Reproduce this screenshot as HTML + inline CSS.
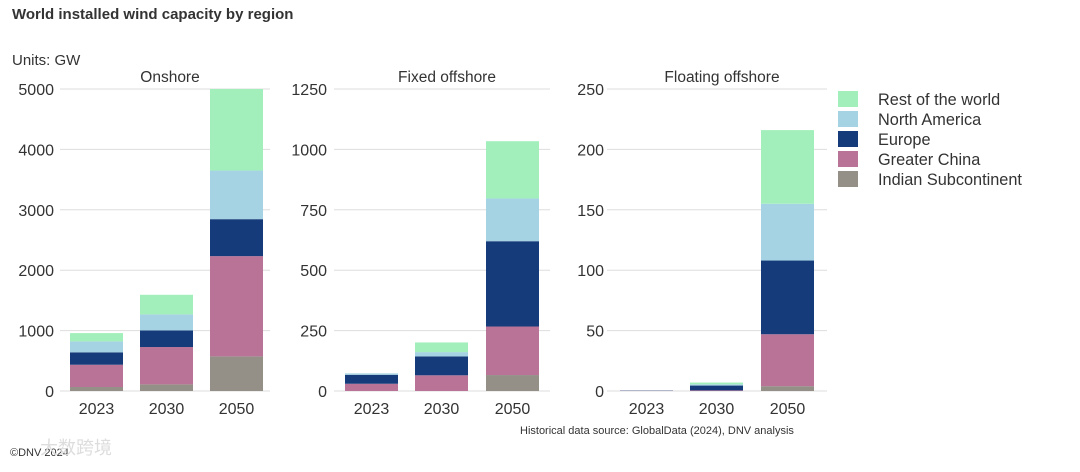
<!DOCTYPE html>
<html><head><meta charset="utf-8">
<style>
body{margin:0;background:#fff;font-family:"Liberation Sans",sans-serif;}
svg text{font-family:"Liberation Sans","Noto Sans CJK SC",sans-serif;fill:#333;}
</style></head>
<body>
<svg id="chart" width="1080" height="467" xmlns="http://www.w3.org/2000/svg">
<text x="12" y="19" font-size="15" font-weight="bold" fill="#222">World installed wind capacity by region</text>
<text x="12" y="65" font-size="15">Units: GW</text>
<text x="520" y="434" font-size="11">Historical data source: GlobalData (2024), DNV analysis</text>
<text x="10" y="456" font-size="11" fill="#555">©DNV 2024</text>
<text x="40" y="454" font-size="18" style="fill:#ddd">大数跨境</text>
<g id="plots"></g>
<g id="legend"></g>
</svg>
<script>
const years = ["2023","2030","2050"];
const seriesNames = ["Indian Subcontinent","Greater China","Europe","North America","Rest of the world"];
const colors = ["#948f87","#b97397","#163b7a","#a6d3e3","#a3efbb"];
const onshoreIndian = [66,110,573];
const onshoreChina = [369,618,1660];
const onshoreEurope = [205,275,612];
const onshoreNA = [181,265,805];
const onshoreRest = [138,325,1350];
const fixedIndian = [0,0,66];
const fixedChina = [30,65,201];
const fixedEurope = [37,78,353];
const fixedNA = [6,18,177];
const fixedRest = [0,40,237];
const floatIndian = [0,0,4];
const floatChina = [0.2,0.5,43];
const floatEurope = [0.2,4,61];
const floatNA = [0.1,1,47];
const floatRest = [0,1.5,61];
const onshoreTicks = [0,1000,2000,3000,4000,5000];
const fixedTicks = [0,250,500,750,1000,1250];
const floatTicks = [0,50,100,150,200,250];

const NS="http://www.w3.org/2000/svg";
function mk(tag,attrs,parent){const e=document.createElementNS(NS,tag);for(const k in attrs)e.setAttribute(k,attrs[k]);parent.appendChild(e);return e;}
const plots=document.getElementById('plots');
const panels=[
 {title:"Onshore",key:"onshore",x0:60,x1:270,labelX:54,bars:[70,140,210],bw:53,max:5000,ticks:onshoreTicks,data:[onshoreIndian,onshoreChina,onshoreEurope,onshoreNA,onshoreRest]},
 {title:"Fixed offshore",key:"fixed",x0:334,x1:550,labelX:327,bars:[345,415,486],bw:53,max:1250,ticks:fixedTicks,data:[fixedIndian,fixedChina,fixedEurope,fixedNA,fixedRest]},
 {title:"Floating offshore",key:"floating",x0:607,x1:827,labelX:604,bars:[620,690,761],bw:53,max:250,ticks:floatTicks,data:[floatIndian,floatChina,floatEurope,floatNA,floatRest]}
];
const yTop=89,yBot=391;
panels.forEach(p=>{
 const g=mk('g',{},plots);
 
 
 const yS=v=>yBot-(v/p.max)*(yBot-yTop);
 const t=mk('text',{x:(p.x0+p.x1)/2+5,y:82,'font-size':15.5,'text-anchor':'middle'},g);t.textContent=p.title;
 
 
 p.ticks.forEach(v=>{
  const l=mk('line',{x1:p.x0,x2:p.x1,y1:yS(v),y2:yS(v),stroke:'#ddd','stroke-width':1},g);
  
  
  const tx=mk('text',{x:p.labelX,y:yS(v)+6,'font-size':16,'text-anchor':'end'},g);tx.textContent=v;
  
  
 });
 years.forEach((yr,i)=>{
  let acc=0;
  p.data.forEach((s,si)=>{
   const v=s[i];const y1=yS(acc+v),y0=yS(acc);acc+=v;
   if(y0-y1<=0)return;
   const r=mk('rect',{x:p.bars[i],y:y1,width:p.bw,height:y0-y1,fill:colors[si]},g);
   
   
  });
  const xl=mk('text',{x:p.bars[i]+p.bw/2,y:414,'font-size':16,'text-anchor':'middle'},g);xl.textContent=yr;
  
  
 });
});
const lg=document.getElementById('legend');
const order=[4,3,2,1,0];
order.forEach((si,k)=>{
 const y=91+k*20;
 const r=mk('rect',{x:838,y:y,width:20,height:16,fill:colors[si]},lg);
 
 
 const t=mk('text',{x:878,y:y+14,'font-size':16.3},lg);t.textContent=seriesNames[si];
 
 
});
</script>
</body></html>
